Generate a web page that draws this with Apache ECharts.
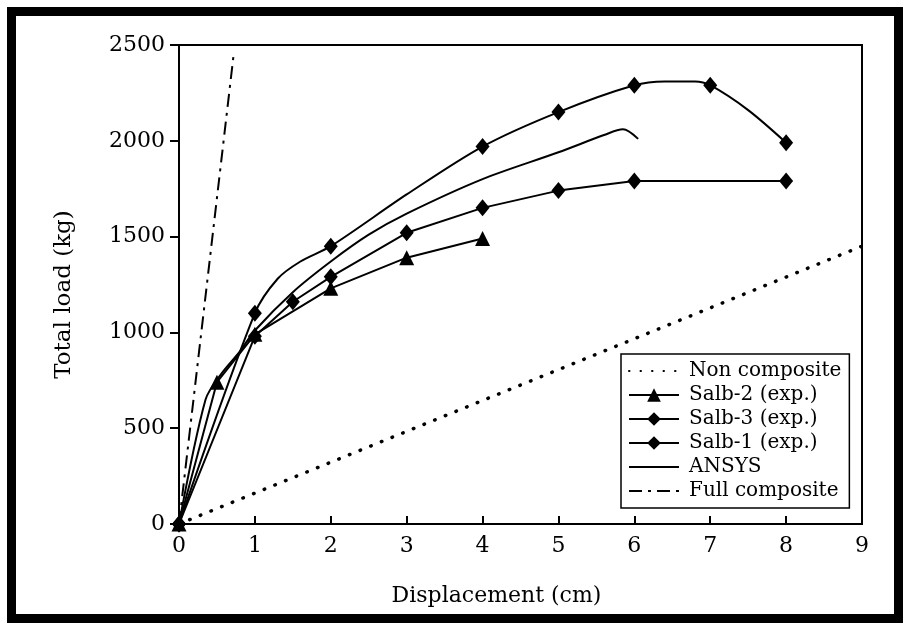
<!DOCTYPE html>
<html>
<head>
<meta charset="utf-8">
<title>Total load vs displacement</title>
<script src="https://cdn.jsdelivr.net/npm/echarts@6/dist/echarts.min.js"></script>
<style>
	html, body { margin: 0; padding: 0; background: #fff; }
	#chart { width: 905px; height: 626px; }
</style>
</head>
<body>
<div id="chart"></div>
<script>
	// 数据
	const xTicks = [0, 1, 2, 3, 4, 5, 6, 7, 8, 9];
	const yTicks = [0, 500, 1000, 1500, 2000, 2500];

	const nonComposite = [[0, 0], [9, 1450]];
	const fullComposite = [[0, 0], [0.72, 2450]];

	// 试验点 (有标记) 与曲线上的中间点 (无标记)
	const salb2 = [[0, 0], [0.5, 740], [1, 990], [2, 1230], [3, 1390], [4, 1490]];
	const salb3 = [[0, 0], [1, 1100], [2, 1450], [4, 1970], [5, 2150], [6, 2290], [7, 2290], [8, 1990]];
	const salb3Curve = [[1.3, 1280], [1.6, 1370], [3, 1720], [6.4, 2310], [6.8, 2310], [7.5, 2160]];
	const salb1 = [[0, 0], [1, 980], [1.5, 1160], [2, 1290], [3, 1520], [4, 1650], [5, 1740], [6, 1790], [8, 1790]];
	const ansys = [[0, 0], [0.35, 650], [0.55, 780], [0.8, 900], [1, 1010], [1.5, 1210], [2, 1370],
		[2.5, 1510], [3, 1620], [4, 1800], [5, 1940], [5.6, 2030], [5.85, 2060], [6.05, 2010]];

	const font = 'DejaVu Serif';

	// 合并曲线点, 中间点不画标记
	const mergeCurve = (marked, plain) => {
		return marked.map(p => ({ value: p }))
			.concat(plain.map(p => ({ value: p, symbol: 'none' })))
			.sort((a, b) => a.value[0] - b.value[0]);
	};

	const chart = echarts.init(document.getElementById('chart'));

	const baseLine = {
		type: 'line',
		color: '#000',
		lineStyle: { color: '#000', width: 2 },
		itemStyle: { color: '#000' },
		animation: false
	};
	// 无标记的线, 图例里也不画圆点
	const noMarker = {
		symbol: 'none',
		itemStyle: { color: '#000', opacity: 0 }
	};

	chart.setOption({
		backgroundColor: '#fff',
		graphic: [{
			type: 'rect',
			shape: { x: 11.5, y: 11.5, width: 887, height: 607 },
			style: { fill: 'none', stroke: '#000', lineWidth: 9 },
			silent: true
		}],
		grid: {
			left: 179,
			right: 43,
			top: 45,
			bottom: 102,
			show: true,
			borderColor: '#000',
			borderWidth: 2
		},
		legend: {
			orient: 'vertical',
			left: 621,
			top: 354,
			padding: [7, 8, 7, 7],
			itemWidth: 50,
			itemHeight: 17,
			itemGap: 4,
			borderColor: '#000',
			borderWidth: 1.5,
			backgroundColor: '#fff',
			textStyle: { fontFamily: font, fontSize: 20, color: '#000', lineHeight: 20, padding: [0, 0, 0, 5] },
			data: ['Non composite', 'Salb-2 (exp.)', 'Salb-3 (exp.)', 'Salb-1 (exp.)', 'ANSYS', 'Full composite']
		},
		xAxis: {
			type: 'value',
			min: 0,
			max: 9,
			interval: 1,
			name: 'Displacement (cm)',
			nameLocation: 'middle',
			nameGap: 61,
			nameTextStyle: { fontFamily: font, fontSize: 22, color: '#000', padding: [0, 48, 0, 0] },
			axisLine: { lineStyle: { color: '#000', width: 2 } },
			axisTick: { inside: true, length: 8, lineStyle: { color: '#000', width: 2 } },
			axisLabel: {
				fontFamily: font, fontSize: 22, color: '#000', margin: 11,
				customValues: xTicks
			},
			splitLine: { show: false }
		},
		yAxis: {
			type: 'value',
			min: 0,
			max: 2500,
			interval: 500,
			name: 'Total load (kg)',
			nameLocation: 'middle',
			nameRotate: 90,
			nameGap: 103,
			nameTextStyle: { fontFamily: font, fontSize: 23, color: '#000', padding: [0, 20, 0, 0] },
			axisLine: { lineStyle: { color: '#000', width: 2 } },
			axisTick: { inside: false, length: 9, lineStyle: { color: '#000', width: 2 } },
			axisLabel: {
				fontFamily: font, fontSize: 22, color: '#000', margin: 14,
				customValues: yTicks,
				formatter: v => String(v)
			},
			splitLine: { show: false }
		},
		series: [
			{
				...baseLine,
				...noMarker,
				name: 'Non composite',
				data: nonComposite,
				lineStyle: { color: '#000', width: 3.5, type: [0.5, 11], cap: 'round' }
			},
			{
				...baseLine,
				name: 'Salb-2 (exp.)',
				data: salb2,
				symbol: 'triangle',
				symbolSize: 15
			},
			{
				...baseLine,
				name: 'Salb-3 (exp.)',
				data: mergeCurve(salb3, salb3Curve),
				symbol: 'diamond',
				symbolSize: [14, 17],
				smooth: 0.3
			},
			{
				...baseLine,
				name: 'Salb-1 (exp.)',
				data: salb1,
				symbol: 'diamond',
				symbolSize: [14, 17]
			},
			{
				...baseLine,
				...noMarker,
				name: 'ANSYS',
				data: ansys,
				smooth: 0.3
			},
			{
				...baseLine,
				...noMarker,
				name: 'Full composite',
				data: fullComposite,
				lineStyle: { color: '#000', width: 2, type: [13, 6, 3, 6] }
			}
		]
	});
</script>
</body>
</html>
